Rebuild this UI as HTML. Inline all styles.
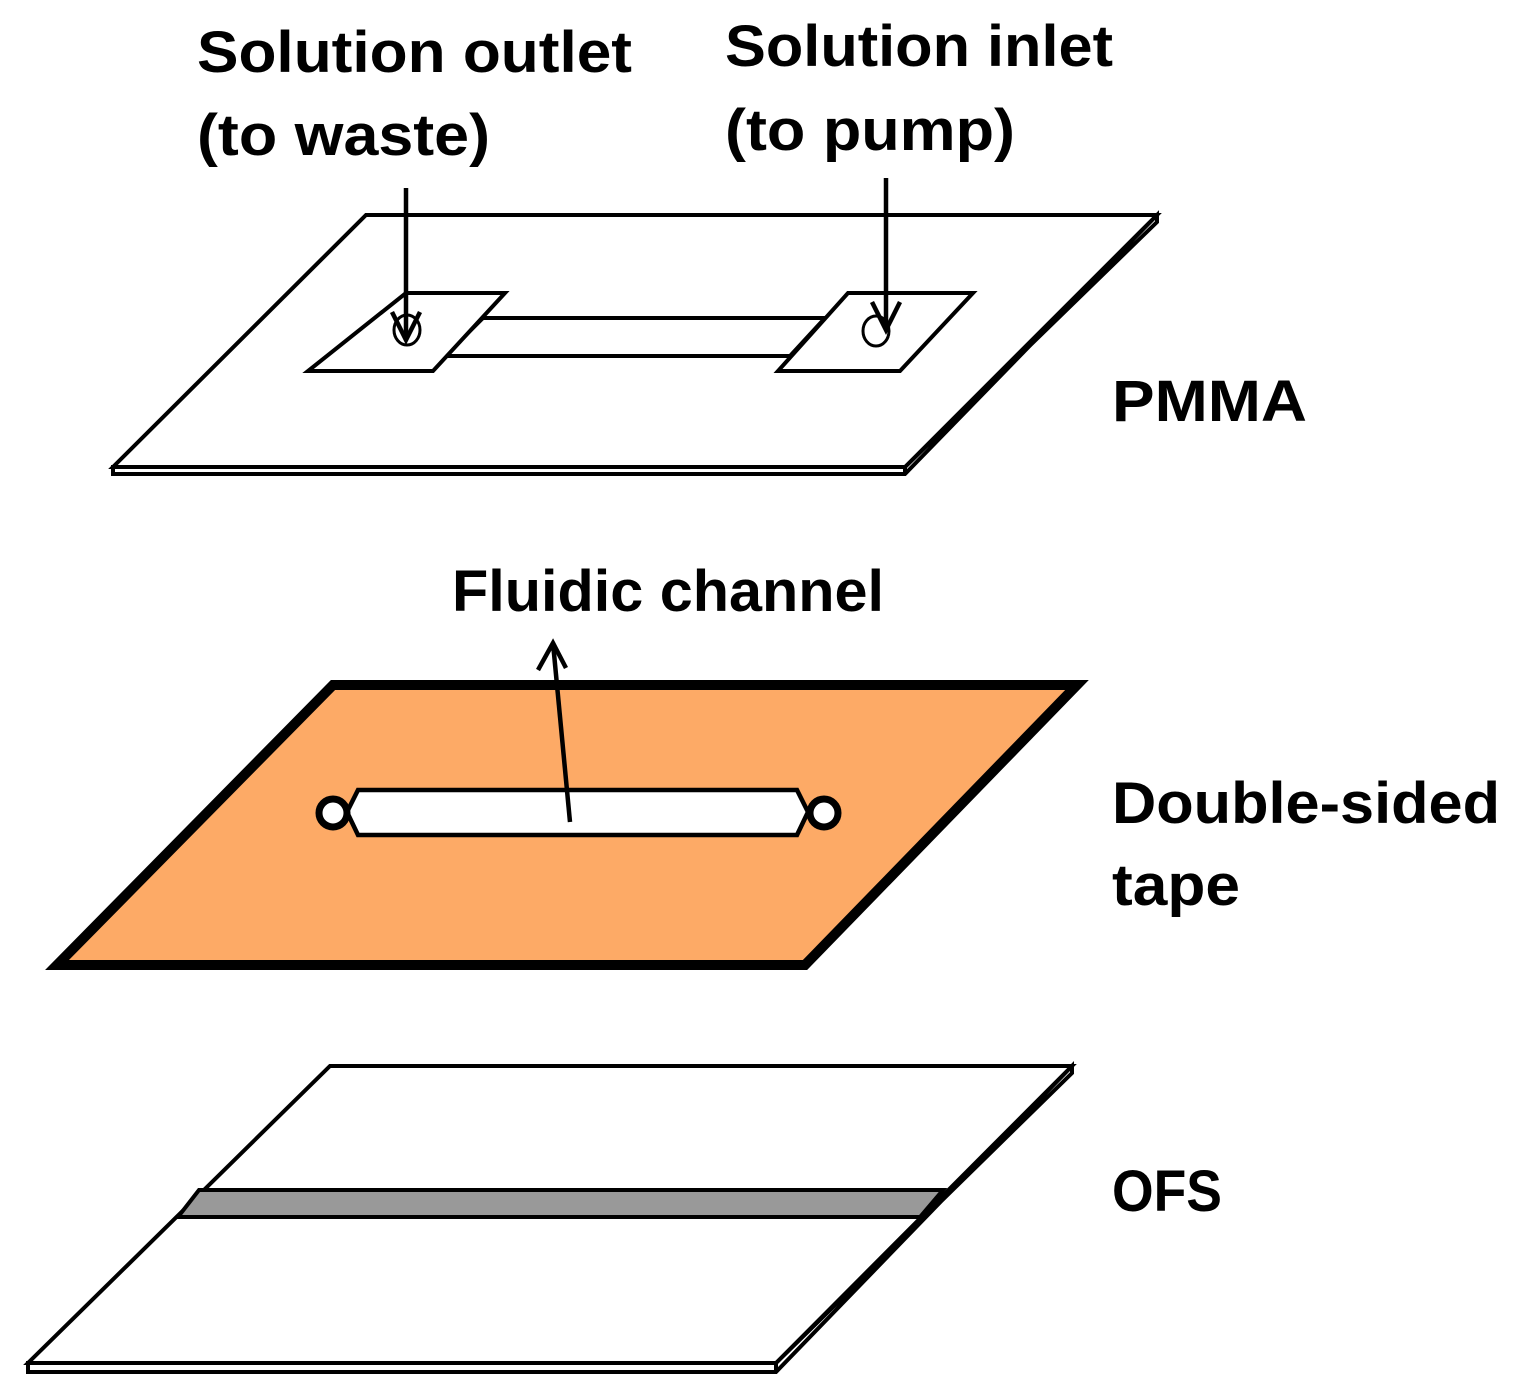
<!DOCTYPE html>
<html><head><meta charset="utf-8"><style>html,body{margin:0;padding:0;background:#fff}svg{display:block}</style></head><body>
<svg width="1513" height="1395" viewBox="0 0 1513 1395" xmlns="http://www.w3.org/2000/svg">
<g font-family="Liberation Sans, sans-serif" font-weight="bold" font-size="58" fill="#000">
<text x="197" y="72" textLength="435" lengthAdjust="spacingAndGlyphs">Solution outlet</text>
<text x="197" y="155" textLength="293" lengthAdjust="spacingAndGlyphs">(to waste)</text>
<text x="725" y="66" textLength="388" lengthAdjust="spacingAndGlyphs">Solution inlet</text>
<text x="725" y="150" textLength="290" lengthAdjust="spacingAndGlyphs">(to pump)</text>
<text x="1112" y="421" textLength="195" lengthAdjust="spacingAndGlyphs">PMMA</text>
<text x="452" y="611" textLength="432" lengthAdjust="spacingAndGlyphs">Fluidic channel</text>
<text x="1112" y="823" textLength="388" lengthAdjust="spacingAndGlyphs">Double-sided</text>
<text x="1112" y="905" textLength="128" lengthAdjust="spacingAndGlyphs">tape</text>
<text x="1112" y="1211" textLength="110" lengthAdjust="spacingAndGlyphs">OFS</text>
</g>
<g stroke="#000" stroke-width="4" fill="#fff" stroke-linejoin="miter">
<polygon points="113,467 905,467 1157,222 1157,215 905,474 113,474"/>
<polygon points="366,215 1157,215 905,467 113,467"/>
<line x1="905" y1="467" x2="905" y2="474"/>
<polygon points="483,318 825,318 790,356 445,356"/>
<polygon points="406,293 505,293 433,371 308,371"/>
<polygon points="848,293 973,293 900,371 778,371"/>
<ellipse cx="407" cy="330" rx="13" ry="15" stroke-width="3"/>
<ellipse cx="876" cy="331" rx="13" ry="15" stroke-width="3"/>
</g>
<g stroke="#000" stroke-width="4.5" fill="none">
<line x1="406" y1="188" x2="406" y2="340"/>
<polyline points="392,312 406,340 420,312"/>
<line x1="886" y1="178" x2="886" y2="330"/>
<polyline points="872,302 886,330 900,302"/>
</g>
<polygon points="333,685 1077,685 805,965 57,965" fill="#FDAA66" stroke="#000" stroke-width="10" stroke-linejoin="miter"/>
<g stroke="#000" stroke-width="4.5" fill="#fff">
<polygon points="358,790 797,790 808,812 797,835 358,835 347,812"/>
<circle cx="333" cy="813" r="14" stroke-width="7"/>
<circle cx="824" cy="813" r="14" stroke-width="7"/>
</g>
<g stroke="#000" stroke-width="4.5" fill="none">
<line x1="570" y1="822" x2="553" y2="643"/>
<polyline points="538,670 553,643 566,668"/>
</g>
<g stroke="#000" stroke-width="4" fill="#fff">
<polygon points="28,1363 776,1363 1072,1073 1072,1066 776,1372 28,1372"/>
<polygon points="330,1066 1072,1066 776,1363 28,1363"/>
<line x1="776" y1="1363" x2="776" y2="1372"/>
<polygon points="199,1190 943,1190 920,1217 178,1217" fill="#999"/>
</g>
</svg>
</body></html>
